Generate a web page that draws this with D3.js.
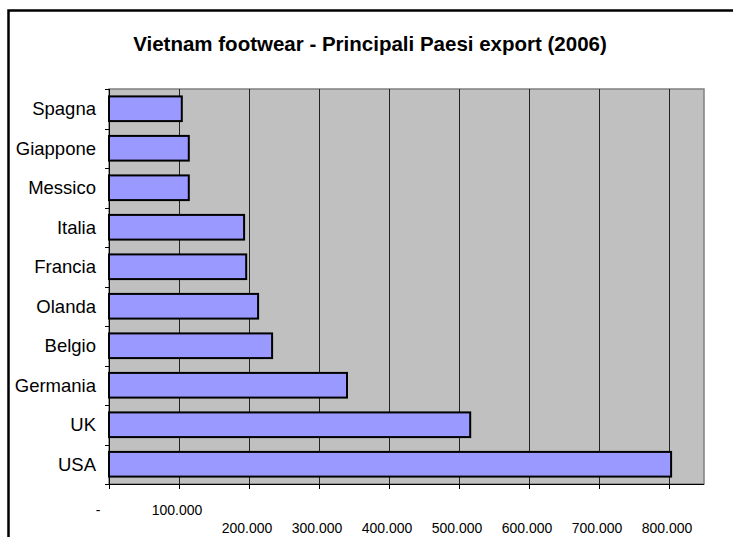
<!DOCTYPE html>
<html>
<head>
<meta charset="utf-8">
<script src="https://cdn.jsdelivr.net/npm/d3@7"></script>
<style>
  html, body { margin: 0; padding: 0; background: #fff; }
  svg { display: block; font-family: "Liberation Sans", Arial, sans-serif; }
</style>
</head>
<body>
<svg id="chart" width="733" height="537"></svg>
<script>
// categories from top to bottom, as drawn in the chart
const countries = ["Spagna", "Giappone", "Messico", "Italia", "Francia",
  "Olanda", "Belgio", "Germania", "UK", "USA"];
// export values (pairs)
const exportValues = [104000, 114000, 114000, 193000, 196000,
  213000, 233000, 340000, 516000, 803000];
const xTicks = [0, 100000, 200000, 300000, 400000, 500000, 600000, 700000, 800000];
const xTickLabels = ["-", "100.000", "200.000", "300.000", "400.000",
  "500.000", "600.000", "700.000", "800.000"];
const title = "Vietnam footwear - Principali Paesi export (2006)";

const svg = d3.select("#chart");
const plot = { left: 109, right: 704, top: 89, bottom: 484 };

// outer chart border (right and bottom edges fall outside the picture)
svg.append("rect")
  .attr("x", 8.5).attr("y", 10.5)
  .attr("width", 800).attr("height", 600)
  .attr("fill", "none")
  .attr("stroke", "black")
  .attr("stroke-width", 2.5);

svg.append("text")
  .attr("x", 370).attr("y", 51)
  .attr("text-anchor", "middle")
  .attr("font-size", "20.5px")
  .attr("font-weight", "bold")
  .text(title);

const x = d3.scaleLinear()
  .domain([0, 850000])
  .range([plot.left, plot.right]);

const y = d3.scaleBand()
  .domain(countries)
  .range([plot.top, plot.bottom])
  .paddingInner(0.375)
  .paddingOuter(0.1875);

// grey plot area
svg.append("rect")
  .attr("x", plot.left).attr("y", plot.top)
  .attr("width", plot.right - plot.left)
  .attr("height", plot.bottom - plot.top)
  .attr("fill", "#c0c0c0")
  .attr("stroke", "#808080")
  .attr("stroke-width", 1.5);

// vertical gridlines
svg.append("g")
  .attr("stroke", "#222")
  .attr("stroke-width", 1)
  .selectAll("line")
  .data(xTicks.slice(1))
  .enter()
  .append("line")
  .attr("x1", (d) => Math.round(x(d)) + 0.5)
  .attr("x2", (d) => Math.round(x(d)) + 0.5)
  .attr("y1", plot.top)
  .attr("y2", plot.bottom);

// bars
svg.append("g")
  .selectAll("rect")
  .data(countries)
  .enter()
  .append("rect")
  .attr("x", x(0))
  .attr("y", (d) => y(d))
  .attr("width", (d, i) => x(exportValues[i]) - x(0))
  .attr("height", y.bandwidth())
  .attr("fill", "#9999ff")
  .attr("stroke", "black")
  .attr("stroke-width", 2);

// category axis: line, ticks between bands, labels
const yAxis = svg.append("g").attr("stroke", "black").attr("stroke-width", 1);
yAxis.append("line")
  .attr("x1", plot.left + 0.5).attr("x2", plot.left + 0.5)
  .attr("y1", plot.top).attr("y2", plot.bottom);
const bounds = countries.map((d) => y(d) - (y.step() - y.bandwidth()) / 2)
  .concat([plot.bottom]);
yAxis.selectAll("line.tick")
  .data(bounds)
  .enter()
  .append("line")
  .attr("class", "tick")
  .attr("x1", plot.left - 4).attr("x2", plot.left)
  .attr("y1", (d) => Math.round(d) + 0.5)
  .attr("y2", (d) => Math.round(d) + 0.5);

svg.append("g")
  .attr("font-size", "18.5px")
  .attr("text-anchor", "end")
  .selectAll("text")
  .data(countries)
  .enter()
  .append("text")
  .attr("x", 96)
  .attr("y", (d) => y(d) + y.bandwidth() / 2)
  .attr("dy", "0.36em")
  .text((d) => d);

// value axis: line, ticks and staggered labels
const xAxis = svg.append("g").attr("stroke", "black").attr("stroke-width", 1);
xAxis.append("line")
  .attr("x1", plot.left).attr("x2", plot.right)
  .attr("y1", plot.bottom + 0.5).attr("y2", plot.bottom + 0.5);
xAxis.selectAll("line.tick")
  .data(xTicks)
  .enter()
  .append("line")
  .attr("class", "tick")
  .attr("x1", (d) => Math.round(x(d)) + 0.5)
  .attr("x2", (d) => Math.round(x(d)) + 0.5)
  .attr("y1", plot.bottom)
  .attr("y2", plot.bottom + 5);

svg.append("g")
  .attr("font-size", "14px")
  .attr("text-anchor", "middle")
  .selectAll("text")
  .data(xTicks)
  .enter()
  .append("text")
  .attr("x", (d, i) => x(d) + (i === 0 ? -11 : -2))
  .attr("y", (d, i) => (i < 2 ? 515 : 533))
  .text((d, i) => xTickLabels[i]);
</script>
</body>
</html>
